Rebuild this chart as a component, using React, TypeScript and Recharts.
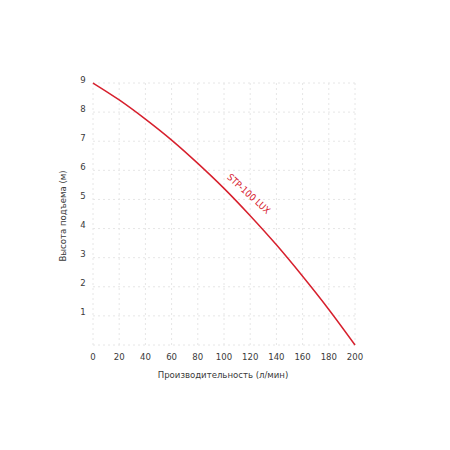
import React from 'react';
import {
  LineChart,
  Line,
  XAxis,
  YAxis,
  CartesianGrid,
  ReferenceDot
} from 'recharts';

// flow (l/min) and head (m)
const flow = [0, 20, 40, 60, 80, 100, 120, 140, 160, 180, 200];
const head = [9, 8.42, 7.76, 7.04, 6.24, 5.38, 4.44, 3.44, 2.36, 1.22, 0];
const xTicks = [0, 20, 40, 60, 80, 100, 120, 140, 160, 180, 200];
const yTicks = [0, 1, 2, 3, 4, 5, 6, 7, 8, 9];
const seriesName = 'STP-100 LUX';
const xTitle = 'Производительность (л/мин)';
const yTitle = 'Высота подъема (м)';

const data = flow.map((q, i) => ({ q, h: head[i] }));

const FONT = '"DejaVu Sans Condensed", "Liberation Sans Narrow", Roboto, sans-serif';
const RED = '#d7202d';
const TEXT = '#3a3a3a';
const FS = 9.5;

const YTick = (props: any) => {
  const { x, y, payload } = props;
  if (payload.value === 0) return null;
  return (
    <text x={x} y={y - 4} textAnchor="middle" dominantBaseline="central" fontSize={FS} fill={TEXT} fontFamily={FONT}>
      {payload.value}
    </text>
  );
};

const XTick = (props: any) => {
  const { x, y, payload } = props;
  return (
    <text x={x} y={y} textAnchor="middle" dominantBaseline="central" fontSize={FS} fill={TEXT} fontFamily={FONT}>
      {payload.value}
    </text>
  );
};

const CurveLabel = (props: any) => {
  const { viewBox } = props;
  const cx = viewBox.cx ?? viewBox.x;
  const cy = viewBox.cy ?? viewBox.y;
  return (
    <text
      x={cx}
      y={cy}
      textAnchor="middle"
      dominantBaseline="central"
      fontSize={FS}
      fill={RED}
      fontFamily={FONT}
      transform={`rotate(42 ${cx} ${cy})`}
    >
      {seriesName}
    </text>
  );
};

export default function App() {
  return (
    <div style={{ margin: -8 }}>
      <LineChart
        width={450}
        height={450}
        data={data}
        margin={{ top: 83, right: 95, bottom: 75, left: 63 }}
      >
        <CartesianGrid stroke="#e6e6e6" strokeDasharray="2 3" />
        <XAxis
          dataKey="q"
          type="number"
          domain={[0, 200]}
          ticks={xTicks}
          interval={0}
          axisLine={false}
          tickLine={false}
          height={30}
          tick={(p: any) => <XTick {...p} y={356} />}
          label={(p: any) => (
            <text x={223} y={374} textAnchor="middle" dominantBaseline="central" fontSize={FS} fill={TEXT} fontFamily={FONT}>
              {xTitle}
            </text>
          )}
        />
        <YAxis
          type="number"
          domain={[0, 9]}
          ticks={yTicks}
          interval={0}
          axisLine={false}
          tickLine={false}
          width={30}
          tick={(p: any) => <YTick {...p} x={83} />}
          label={(p: any) => (
            <text
              x={62}
              y={216}
              textAnchor="middle"
              dominantBaseline="central"
              fontSize={FS}
              fill={TEXT}
              fontFamily={FONT}
              transform="rotate(-90 62 216)"
            >
              {yTitle}
            </text>
          )}
        />
        <Line
          type="natural"
          dataKey="h"
          stroke={RED}
          strokeWidth={1.5}
          dot={false}
          isAnimationActive={false}
        />
        <ReferenceDot x={119} y={5.2} r={0} label={<CurveLabel />} />
      </LineChart>
    </div>
  );
}
